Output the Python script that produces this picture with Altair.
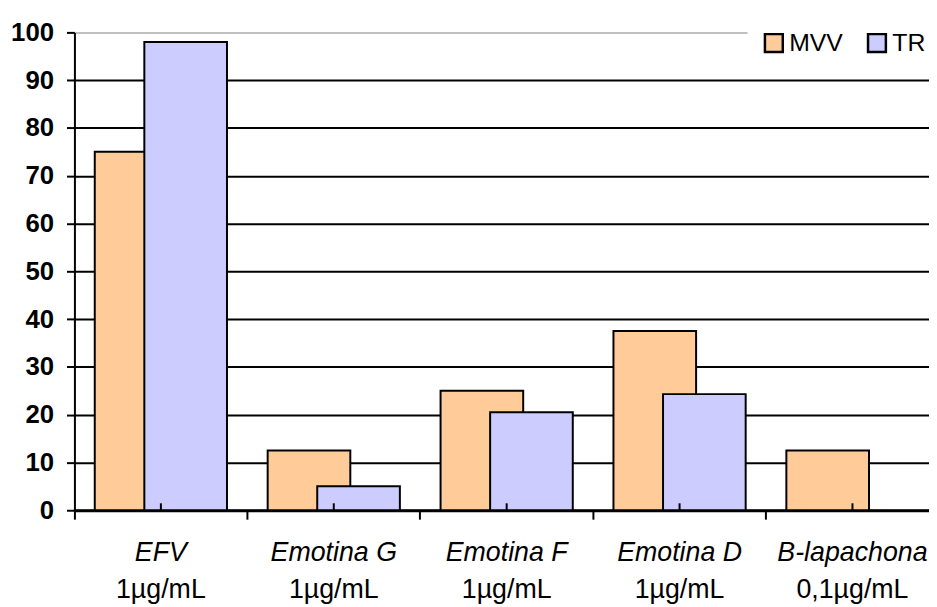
import altair as alt
import pandas as pd

categories = ["EFV", "Emotina G", "Emotina F", "Emotina D", "B-lapachona"]
concentrations = ["1µg/mL", "1µg/mL", "1µg/mL", "1µg/mL", "0,1µg/mL"]
series_names = ["MVV", "TR"]
mvv_values = [75, 12.5, 25, 37.5, 12.5]
tr_values = [98, 5, 20.5, 24.3, None]
y_ticks = [0, 10, 20, 30, 40, 50, 60, 70, 80, 90, 100]
colors = ["#FFCC99", "#CCCCFF"]

rows = []
for c, m, t in zip(categories, mvv_values, tr_values):
    rows.append({"category": c, "series": "MVV", "value": m})
    if t is not None:
        rows.append({"category": c, "series": "TR", "value": t})
df = pd.DataFrame(rows)
cat_df = pd.DataFrame({"category": categories, "conc": concentrations})

FONT = "Liberation Sans"

x_enc = alt.X(
    "category:N",
    sort=categories,
    scale=alt.Scale(domain=categories, range=[0, 872], paddingInner=0, paddingOuter=0),
    axis=alt.Axis(
        title=None, labelAngle=0, bandPosition=0, grid=False,
        tickSize=9, tickWidth=2, tickColor="black",
        domainColor="black", domainWidth=3,
        labelFont=FONT, labelFontSize=27, labelFontStyle="italic",
        labelColor="black", labelPadding=21,
    ),
)
y_enc = alt.Y(
    "value:Q",
    scale=alt.Scale(domain=[0, 100], nice=False),
    axis=alt.Axis(
        title=None, values=y_ticks, tickSize=8, tickWidth=2, tickColor="black",
        domainColor="black", domainWidth=2,
        labelFont=FONT, labelFontSize=26, labelFontWeight="bold",
        labelColor="black", labelPadding=13,
        gridColor={"condition": {"test": "datum.value === 100", "value": "#c0c0c0"}, "value": "black"},
        gridWidth=2,
    ),
)
color_enc = alt.Color(
    "series:N",
    scale=alt.Scale(domain=series_names, range=colors),
    legend=alt.Legend(
        title=None, orient="none", legendX=679, legendY=-16, direction="horizontal",
        symbolType="square", symbolSize=324, symbolStrokeColor="black", symbolStrokeWidth=2.5,
        symbolOpacity=1, labelFont=FONT, labelFontSize=25, labelColor="black",
        labelOffset=3, columnPadding=19, padding=14, fillColor="white",
    ),
)

base = alt.Chart(df)
mvv = base.transform_filter("datum.series === 'MVV'").mark_bar(
    stroke="black", strokeWidth=2, width=alt.RelativeBandSize(0.478), xOffset=-25, opacity=1
).encode(x=x_enc, y=y_enc, color=color_enc)
tr = base.transform_filter("datum.series === 'TR'").mark_bar(
    stroke="black", strokeWidth=2, width=alt.RelativeBandSize(0.478), xOffset=25, opacity=1
).encode(x=x_enc, y=y_enc, color=color_enc)

center_ticks = alt.Chart(cat_df).mark_rule(color="black", strokeWidth=2, y2Offset=-7).encode(
    x=alt.X("category:N", sort=categories),
    y=alt.datum(0),
    y2=alt.datum(0),
)
conc_text = alt.Chart(cat_df).mark_text(
    font=FONT, fontSize=27, color="black", baseline="alphabetic", dy=89
).encode(
    x=alt.X("category:N", sort=categories),
    y=alt.datum(0),
    text="conc:N",
)

chart = alt.layer(mvv, tr, center_ticks, conc_text).properties(
    width=862,
    height=482,
    autosize=alt.AutoSizeParams(type="none"),
    padding={"left": 67, "top": 22, "right": 0, "bottom": 95},
).configure_view(stroke=None).configure(background="white")

chart.save("out.html", embed_options={"renderer": "svg", "actions": False})
